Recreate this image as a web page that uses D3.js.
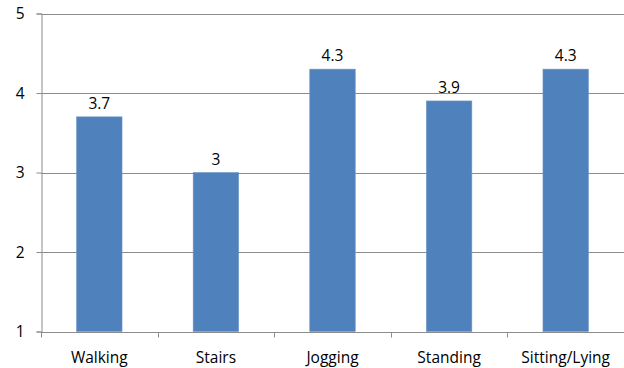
<!DOCTYPE html>
<html>
<head>
<meta charset="utf-8">
<script src="https://cdn.jsdelivr.net/npm/d3@7"></script>
<style>
  html, body { margin: 0; padding: 0; background: #fff; }
  svg text { font-family: "Open Sans", "Noto Sans", sans-serif; fill: #000; }
</style>
</head>
<body>
<svg id="chart" width="624" height="368"></svg>
<script>
// Activity categories and their average scores
const categories = ["Walking", "Stairs", "Jogging", "Standing", "Sitting/Lying"];
const scores = [3.7, 3, 4.3, 3.9, 4.3];
const yTicks = [1, 2, 3, 4, 5];

const svg = d3.select("#chart");
const plotLeft = 41, plotRight = 624, plotTop = 13.5, plotBottom = 331.5;
const fontSize = 15.5;

const x = d3.scaleBand().domain(categories).range([plotLeft, plotRight]).paddingInner(0.61).paddingOuter(0.305);
const xTickScale = d3.scaleBand().domain(categories).range([plotLeft, plotRight]);
const y = d3.scaleLinear().domain([1, 5]).range([plotBottom, plotTop]);

// horizontal gridlines
svg.append("g").selectAll("line").data(yTicks.filter(d => d > 1)).join("line")
  .attr("x1", plotLeft).attr("x2", plotRight)
  .attr("y1", d => Math.round(y(d)) + 0.5).attr("y2", d => Math.round(y(d)) + 0.5)
  .attr("stroke", "#8c8c8c").attr("stroke-width", 1);

// bars
svg.append("g").selectAll("rect").data(categories).join("rect")
  .attr("x", d => x(d))
  .attr("width", x.bandwidth())
  .attr("y", (d, i) => y(scores[i]))
  .attr("height", (d, i) => plotBottom - y(scores[i]))
  .attr("fill", "#4f81bd")
  .attr("stroke", "#6f97c9").attr("stroke-width", 0.6);

// value labels
svg.append("g").selectAll("text").data(categories).join("text")
  .attr("x", d => x(d) + x.bandwidth() / 2)
  .attr("y", (d, i) => y(scores[i]) - 8)
  .attr("text-anchor", "middle")
  .attr("font-size", fontSize)
  .text((d, i) => scores[i]);

// y axis
const yAxis = svg.append("g").attr("transform", `translate(${plotLeft + 0.5},0)`)
  .call(d3.axisLeft(y).tickValues(yTicks).tickSize(5).tickPadding(12).tickFormat(d3.format("d")));
yAxis.select(".domain").attr("stroke", "#8c8c8c");
yAxis.selectAll(".tick line").attr("stroke", "#8c8c8c");
yAxis.selectAll(".tick text").attr("font-size", fontSize).attr("dy", "0.35em");

// x axis with ticks at band boundaries
const xg = svg.append("g").attr("transform", `translate(0,${Math.round(plotBottom) + 0.5})`);
xg.append("line").attr("x1", plotLeft).attr("x2", plotRight).attr("stroke", "#8c8c8c");
const bounds = categories.map(c => xTickScale(c)).concat([plotRight]);
xg.selectAll("line.tk").data(bounds).join("line").attr("class", "tk")
  .attr("x1", d => Math.round(d) + 0.5).attr("x2", d => Math.round(d) + 0.5)
  .attr("y1", 0).attr("y2", 5).attr("stroke", "#8c8c8c");
xg.selectAll("text").data(categories).join("text")
  .attr("x", d => xTickScale(d) + xTickScale.bandwidth() / 2)
  .attr("y", 30)
  .attr("text-anchor", "middle")
  .attr("font-size", fontSize)
  .text(d => d);
</script>
</body>
</html>
